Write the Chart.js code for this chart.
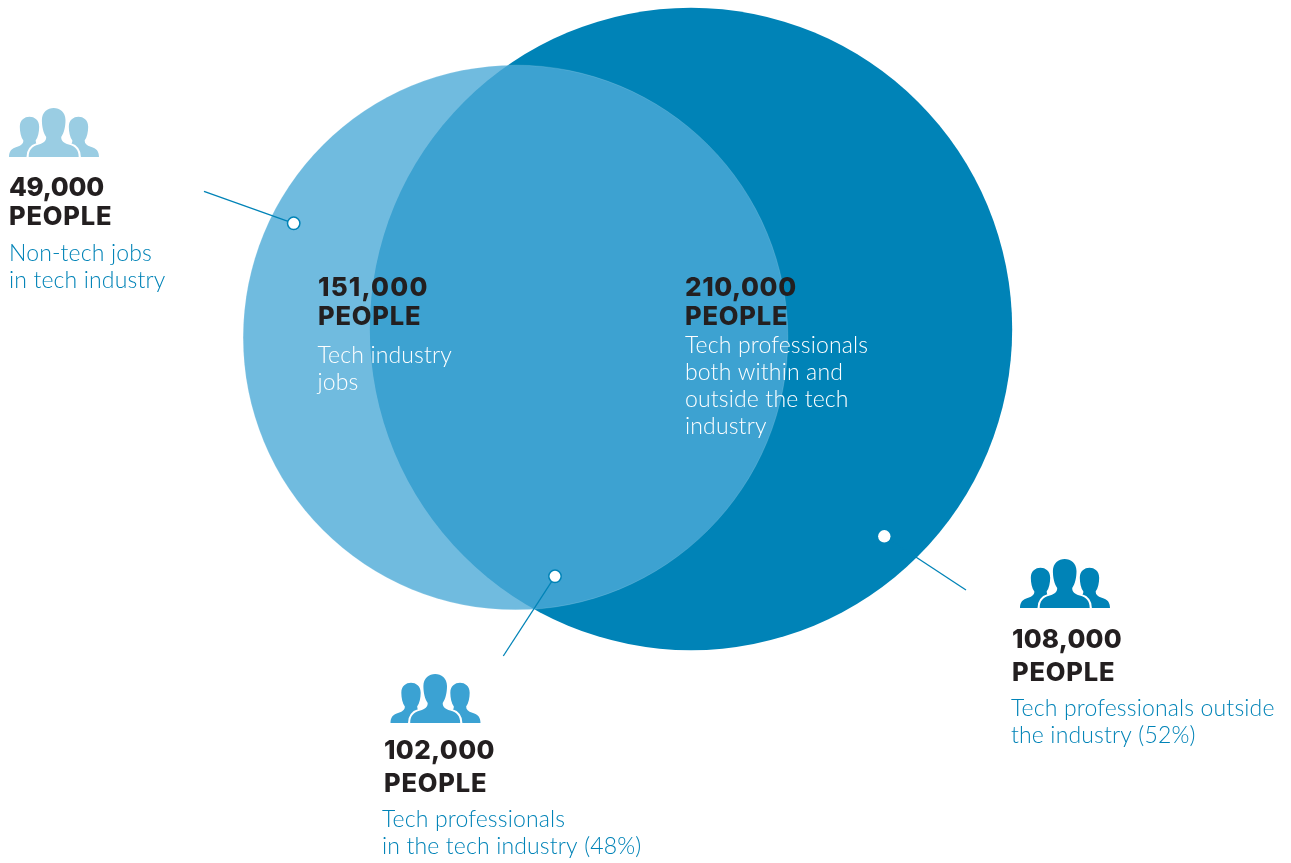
<!DOCTYPE html>
<html>
<head>
<meta charset="utf-8">
<style>
    html, body { margin: 0; padding: 0; background: #fff; }
    canvas { display: block; }
</style>
<script src="https://cdn.jsdelivr.net/npm/chart.js@4/dist/chart.umd.min.js"></script>
</head>
<body>
<canvas id="venn"></canvas>
<script>
// head counts, in the order the callouts are listed below
const counts = [49000, 151000, 210000, 102000, 108000]
const unit = 'PEOPLE'
const notes = [
    ['Non-tech jobs', 'in tech industry'],
    ['Tech industry', 'jobs'],
    ['Tech professionals', 'both within and', 'outside the tech', 'industry'],
    ['Tech professionals', 'in the tech industry (48%)'],
    ['Tech professionals outside', 'the industry (52%)']
]

// the two sets: tech industry jobs and tech professionals
const setTotals = [151000, 210000]
const setX = [515.5, 691]
const setY = [337.5, 329]

const dotX = [293.7, 555, 884.3]
const dotY = [223.3, 576.3, 536.3]
const leaderEndX = [204, 503.3, 966]
const leaderEndY = [191.3, 656, 590]

const WIDTH = 1291
const HEIGHT = 863
const BLUE = '#0083b7'
const INK = '#231f20'
const WHITE = '#ffffff'

// bubble area follows the head count
const radiusOf = total => 0.7009 * Math.sqrt(total)

// where each callout's text goes: x, number / unit / first note baselines.
// numGap evens out the digit widths, Inter's 1 is narrow on a canvas
const textLayout = [
    { x: 9, numY: 196, unitY: 225, noteY: 261, noteX: 9, noteColor: BLUE, numGap: -0.3 },
    { x: 318, numY: 296, unitY: 324.5, noteY: 363, noteX: 317.5, noteColor: WHITE, numGap: 1.2 },
    { x: 685, numY: 296, unitY: 324.5, noteY: 353, noteX: 685, noteColor: WHITE, numGap: 0.6 },
    { x: 384, numY: 759, unitY: 792, noteY: 827, noteX: 382, noteColor: BLUE, numGap: 0.35 },
    { x: 1012, numY: 648, unitY: 681, noteY: 716, noteX: 1011, noteColor: BLUE, numGap: 0.2 }
]

const iconLayout = [
    { x: 9, y: 108, color: '#9acde3' },
    { x: 390.5, y: 674, color: '#3ba2d3' },
    { x: 1020, y: 559, color: BLUE }
]

function personPath(cx, top, s) {
    const p = new Path2D()
    const X = v => cx + v * s
    const Y = v => top + v * s
    p.moveTo(X(-25), Y(49))
    p.bezierCurveTo(X(-25), Y(42), X(-22), Y(38.5), X(-15), Y(36.5))
    p.bezierCurveTo(X(-10), Y(35), X(-7.5), Y(33), X(-7.5), Y(29))
    p.bezierCurveTo(X(-10.5), Y(25), X(-11.8), Y(18), X(-11.8), Y(12))
    p.bezierCurveTo(X(-11.8), Y(4), X(-6), Y(0), X(0), Y(0))
    p.bezierCurveTo(X(6), Y(0), X(11.8), Y(4), X(11.8), Y(12))
    p.bezierCurveTo(X(11.8), Y(18), X(10.5), Y(25), X(7.5), Y(29))
    p.bezierCurveTo(X(7.5), Y(33), X(10), Y(35), X(15), Y(36.5))
    p.bezierCurveTo(X(22), Y(38.5), X(25), Y(42), X(25), Y(49))
    p.closePath()
    return p
}

const calloutPlugin = {
    id: 'callouts',
    afterDatasetsDraw(chart) {
        const ctx = chart.ctx
        ctx.save()

        // three-person icons: side figures first, then a white halo for the middle one
        iconLayout.forEach(icon => {
            const side = 0.82
            const base = icon.y + 49 - 49 * side
            const middle = personPath(icon.x + 44.7, icon.y, 1)
            ctx.fillStyle = icon.color
            ctx.fill(personPath(icon.x + 20.5, base, side))
            ctx.fill(personPath(icon.x + 69.5, base, side))
            ctx.strokeStyle = WHITE
            ctx.lineWidth = 4.4
            ctx.stroke(middle)
            ctx.fillStyle = icon.color
            ctx.fill(middle)
            // trim the halo along the bottom edge
            ctx.fillStyle = WHITE
            ctx.fillRect(icon.x - 2, icon.y + 49, 94, 4)
        })

        ctx.textBaseline = 'alphabetic'
        ctx.textAlign = 'left'
        counts.forEach((count, i) => {
            const t = textLayout[i]
            ctx.fillStyle = INK
            ctx.font = '800 26px Inter'
            ctx.letterSpacing = t.numGap + 'px'
            ctx.fillText(count.toLocaleString('en-US'), t.x, t.numY)
            ctx.font = '800 25.5px Inter'
            ctx.letterSpacing = '0.8px'
            ctx.fillText(unit, t.x, t.unitY)
            ctx.fillStyle = t.noteColor
            ctx.font = '300 23px Lato'
            ctx.letterSpacing = '0.15px'
            notes[i].forEach((line, j) => {
                ctx.fillText(line, t.noteX, t.noteY + j * 27)
            })
        })
        ctx.restore()
    }
}

const canvas = document.getElementById('venn')
canvas.width = WIDTH
canvas.height = HEIGHT

const leaders = dotX.map((x, i) => ({
    type: 'line',
    order: 2,
    data: [{ x: x, y: dotY[i] }, { x: leaderEndX[i], y: leaderEndY[i] }],
    borderColor: BLUE,
    borderWidth: 1.3,
    pointRadius: 0
}))

new Chart(canvas, {
    type: 'bubble',
    data: {
        datasets: [
            {
                label: 'Callout dots',
                order: 1,
                data: dotX.map((x, i) => ({ x: x, y: dotY[i], r: 6.2 })),
                backgroundColor: WHITE,
                borderColor: BLUE,
                borderWidth: [1.5, 1.5, 0]
            },
            ...leaders,
            {
                label: 'Tech industry jobs',
                order: 3,
                data: [{ x: setX[0], y: setY[0], r: radiusOf(setTotals[0]) }],
                backgroundColor: 'rgba(76, 170, 215, 0.8)',
                borderColor: 'rgba(255, 255, 255, 0.2)',
                borderWidth: 0.7
            },
            {
                label: 'Tech professionals',
                order: 4,
                data: [{ x: setX[1], y: setY[1], r: radiusOf(setTotals[1]) }],
                backgroundColor: BLUE,
                borderWidth: 0
            }
        ]
    },
    options: {
        responsive: false,
        animation: false,
        events: [],
        // keep the plot area on the full canvas, bubbles would otherwise pad it
        layout: { padding: 0, autoPadding: false },
        plugins: {
            legend: { display: false },
            tooltip: { enabled: false }
        },
        scales: {
            x: { type: 'linear', display: false, min: 0, max: WIDTH },
            y: { type: 'linear', display: false, min: 0, max: HEIGHT, reverse: true }
        }
    },
    plugins: [calloutPlugin]
})
</script>
</body>
</html>
